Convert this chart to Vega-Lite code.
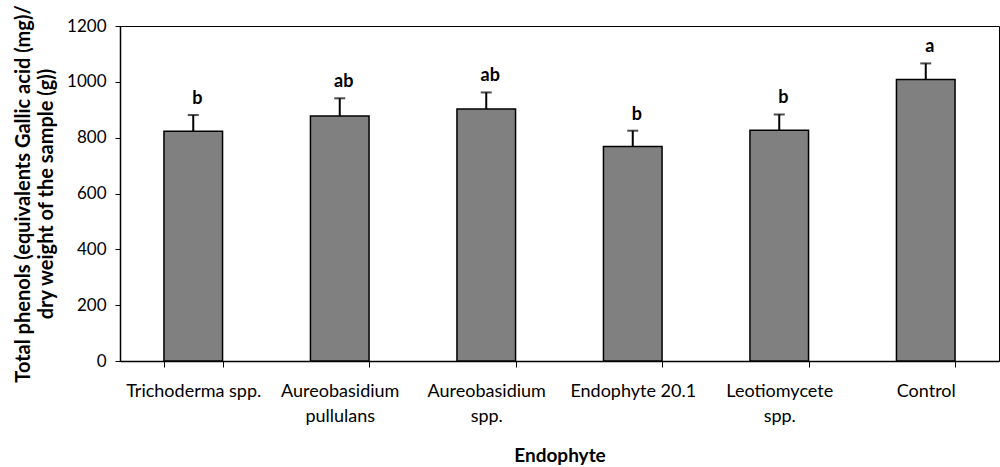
{
  "$schema": "https://vega.github.io/schema/vega-lite/v6.json",
  "autosize": {"type": "none"},
  "padding": {"left": 120, "top": 26, "right": 1, "bottom": 106},
  "width": 879,
  "height": 335,
  "background": "white",
  "config": {
    "font": "Lato",
    "view": {"stroke": "black", "strokeWidth": 1},
    "axis": {"grid": false, "domainColor": "black", "tickColor": "black", "labelColor": "black", "titleColor": "black", "labelFont": "Lato", "titleFont": "Lato"}
  },
  "data": {
    "values": [
      {"endophyte": "Trichoderma spp.", "phenols": 823, "upper": 881, "group": "b"},
      {"endophyte": "Aureobasidium pullulans", "phenols": 878, "upper": 941, "group": "ab"},
      {"endophyte": "Aureobasidium spp.", "phenols": 903, "upper": 962, "group": "ab"},
      {"endophyte": "Endophyte 20.1", "phenols": 768, "upper": 825, "group": "b"},
      {"endophyte": "Leotiomycete spp.", "phenols": 827, "upper": 883, "group": "b"},
      {"endophyte": "Control", "phenols": 1008, "upper": 1066, "group": "a"}
    ]
  },
  "encoding": {
    "x": {
      "field": "endophyte", "type": "nominal", "sort": null,
      "scale": {"paddingInner": 0.6, "paddingOuter": 0.3},
      "axis": {
        "title": "Endophyte", "titleFontSize": 19, "titleFontWeight": "bold", "titlePadding": 21,
        "labelAngle": 0, "labelFontSize": 18, "labelLineHeight": 25, "labelPadding": 15,
        "tickBand": "extent", "tickSize": 6, "domainWidth": 1.5,
        "labelExpr": "datum.value == 'Aureobasidium pullulans' ? ['Aureobasidium', 'pullulans'] : datum.value == 'Aureobasidium spp.' ? ['Aureobasidium', 'spp.'] : datum.value == 'Leotiomycete spp.' ? ['Leotiomycete', 'spp.'] : datum.value"
      }
    }
  },
  "layer": [
    {
      "mark": {"type": "bar", "fill": "#808080", "stroke": "black", "strokeWidth": 1.5},
      "encoding": {
        "y": {
          "field": "phenols", "type": "quantitative",
          "scale": {"domain": [0, 1200], "nice": false},
          "axis": {
            "values": [0, 200, 400, 600, 800, 1000, 1200], "format": "d",
            "title": ["Total phenols (equivalents Gallic acid (mg)/", "dry weight of the sample (g))"],
            "titleFontSize": 20, "titleFontWeight": "bold", "titleLineHeight": 23, "titlePadding": 10,
            "labelFontSize": 17, "labelPadding": 9, "tickSize": 5, "domainWidth": 1.5
          }
        }
      }
    },
    {
      "mark": {"type": "rule", "color": "black", "strokeWidth": 2},
      "encoding": {
        "y": {"field": "phenols", "type": "quantitative"},
        "y2": {"field": "upper"}
      }
    },
    {
      "mark": {"type": "tick", "color": "black", "size": 11, "thickness": 2},
      "encoding": {
        "y": {"field": "upper", "type": "quantitative"}
      }
    },
    {
      "mark": {"type": "text", "fontWeight": "bold", "fontSize": 18, "baseline": "alphabetic", "dy": -11, "dx": 4, "color": "black"},
      "encoding": {
        "y": {"field": "upper", "type": "quantitative"},
        "text": {"field": "group"}
      }
    }
  ]
}
